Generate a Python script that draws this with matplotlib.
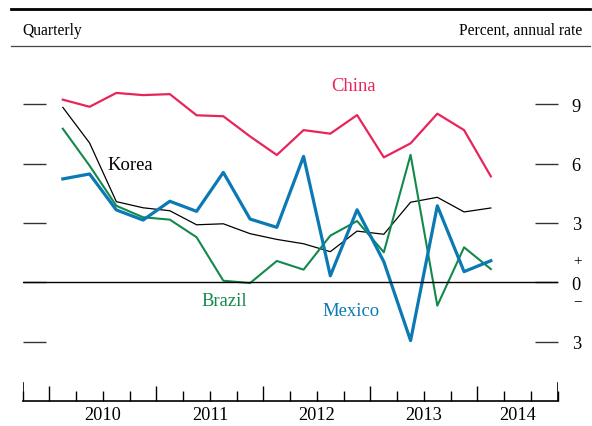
import matplotlib
matplotlib.use("Agg")
import matplotlib.pyplot as plt
from matplotlib.lines import Line2D
import numpy as np

plt.rcParams['font.family'] = ['Liberation Serif', 'DejaVu Serif']

# Real GDP growth, quarterly, percent annual rate (2010:Q1 - 2014:Q1)
quarters = 2010.125 + 0.25 * np.arange(17)
china = [9.24, 8.88, 9.58, 9.47, 9.52, 8.45, 8.40, 7.38, 6.44, 7.70, 7.52, 8.46, 6.32, 7.03, 8.53, 7.70, 5.36]
korea = [8.85, 7.05, 4.08, 3.77, 3.62, 2.91, 2.96, 2.46, 2.17, 1.95, 1.55, 2.59, 2.43, 4.05, 4.30, 3.56, 3.76]
brazil = [7.77, 5.90, 3.87, 3.29, 3.17, 2.28, 0.08, -0.04, 1.08, 0.64, 2.36, 3.10, 1.52, 6.45, -1.18, 1.77, 0.67]
mexico = [5.23, 5.48, 3.66, 3.15, 4.10, 3.59, 5.56, 3.20, 2.78, 6.37, 0.33, 3.67, 1.04, -2.95, 3.87, 0.54, 1.09]

years = [2010, 2011, 2012, 2013, 2014]
year_label_pos = [2010.5, 2011.5, 2012.5, 2013.5, 2014.375]
yticks = [-3, 0, 3, 6, 9]
ytick_labels = ['3', '0', '3', '6', '9']

W, H = 592, 427
fig = plt.figure(figsize=(W / 100, H / 100), dpi=100)
ax = fig.add_axes([22.7 / W, 25.1 / H, 535 / W, 355.8 / H])

ax.plot(quarters, china, color='#E8255A', lw=1.6)
ax.plot(quarters, korea, color='black', lw=0.9)
ax.plot(quarters, brazil, color='#12894B', lw=1.5)
ax.plot(quarters, mexico, color='#0A79B4', lw=2.3)

ax.axhline(0, color='black', lw=1.0)

ax.set_xlim(2009.75, 2014.75)
ax.set_ylim(-6, 12)

for side in ['top', 'left', 'right']:
    ax.spines[side].set_visible(False)
ax.spines['bottom'].set_linewidth(1.2)

# x axis: tall ticks at year boundaries, short ticks at quarters
ax.set_xticks(years)
ax.set_xticks(np.arange(2009.75, 2014.76, 0.25), minor=True)
ax.tick_params(axis='x', which='major', direction='in', length=10.8, width=1.0, labelbottom=False)
ax.tick_params(axis='x', which='minor', direction='in', length=7.2, width=1.0)
for edge in [2009.75, 2014.75]:
    ax.axvline(edge, ymin=0, ymax=18 / 355.8, color='black', lw=1.2)
for pos, yr in zip(year_label_pos, years):
    ax.text(pos, -0.0396, str(yr), transform=ax.get_xaxis_transform(),
            ha='center', va='center', fontsize=13.2)

# y axis: short marks on both sides, labels on the right
ax.set_yticks(yticks)
ax.set_yticklabels(ytick_labels)
ax.tick_params(axis='y', direction='in', length=16.5, width=1.0, color='#333333',
               left=True, right=True, labelleft=False, labelright=True,
               labelsize=13.2, pad=10)
ytr = ax.get_yaxis_transform()
ax.text(1.0366, 1.1, '+', transform=ytr, ha='center', va='center', fontsize=11)
ax.text(1.0366, -0.95, '\u2212', transform=ytr, ha='center', va='center', fontsize=11)

# series labels
ax.text(2010.757, 5.95, 'Korea', color='black', ha='center', va='center', fontsize=13.4)
ax.text(2012.844, 9.94, 'China', color='#E8255A', ha='center', va='center', fontsize=13.4)
ax.text(2011.631, -0.93, 'Brazil', color='#12894B', ha='center', va='center', fontsize=13.4)
ax.text(2012.821, -1.44, 'Mexico', color='#0A79B4', ha='center', va='center', fontsize=13.4)

# header rules and captions
fig.add_artist(Line2D([11 / W, 590 / W], [1 - 10 / H, 1 - 10 / H], color='black', lw=2.0))
fig.add_artist(Line2D([11 / W, 590 / W], [1 - 47 / H, 1 - 47 / H], color='#444444', lw=0.9))
fig.text(22.7 / W, 1 - 31 / H, 'Quarterly', ha='left', va='center', fontsize=11.2)
fig.text(582.5 / W, 1 - 31 / H, 'Percent, annual rate', ha='right', va='center', fontsize=11.2)

fig.savefig('out.png', dpi=100)
